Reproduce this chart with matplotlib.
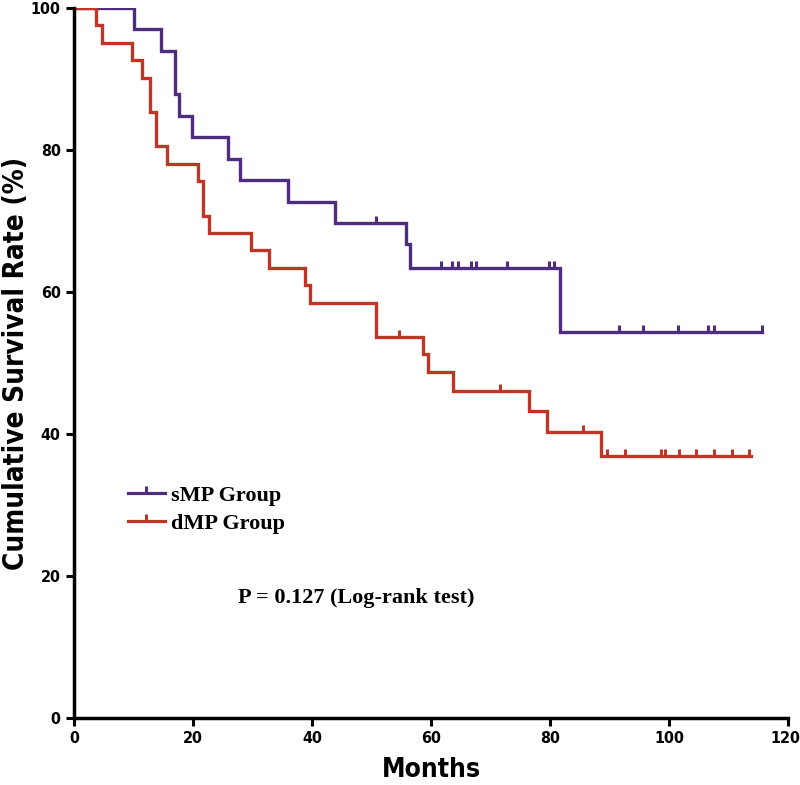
import numpy as np
import matplotlib
matplotlib.use('Agg')
import matplotlib.pyplot as plt
import matplotlib.transforms as mtransforms
from matplotlib.lines import Line2D

# step data (months, survival % after the drop)
smp_t = [0, 10.0, 14.7, 17.0, 17.7, 19.8, 25.8, 27.9, 35.9, 43.9, 55.8, 56.5, 81.6]
smp_s = [100, 97.0, 93.9, 87.9, 84.8, 81.8, 78.8, 75.8, 72.7, 69.7, 66.7, 63.4, 54.3]
smp_end = 115.7
smp_cens = [50.8, 61.6, 63.6, 64.5, 66.7, 67.6, 72.7, 79.8, 80.6,
            91.6, 95.6, 101.5, 106.6, 107.5, 115.6]

dmp_t = [0, 3.7, 4.65, 9.7, 11.5, 12.7, 13.8, 15.7, 20.8, 21.7, 22.7, 29.7, 32.8,
         38.9, 39.7, 50.8, 58.7, 59.5, 63.7, 76.5, 79.5, 88.6]
dmp_s = [100, 97.6, 95.1, 92.7, 90.2, 85.4, 80.5, 78.0, 75.6, 70.7, 68.3, 65.9, 63.4,
         61.0, 58.5, 53.7, 51.2, 48.8, 46.1, 43.2, 40.3, 36.9]
dmp_end = 113.7
dmp_cens = [54.6, 71.6, 85.6, 89.5, 92.6, 98.6, 99.3, 101.6, 104.5, 107.6, 110.6, 113.5]

purple = '#4e2d7e'
red = '#bf3526'
sans = ['Liberation Sans Narrow', 'DejaVu Sans']


def km(ax, t, s, end, cens, color):
    x = list(t) + [end]
    y = list(s) + [s[-1]]
    ax.step(x, y, where='post', color=color, lw=2.4, solid_joinstyle='miter')
    idx = np.searchsorted(t, cens, side='right') - 1
    cy = np.array(s)[idx]
    ax.plot(cens, cy, ls='none', marker=2, ms=5, mew=2.2, color=color)


fig = plt.figure(figsize=(8, 7.85), dpi=100)
ax = fig.add_axes([0.0925, 0.0854, 0.8925, 0.9044])

km(ax, smp_t, smp_s, smp_end, smp_cens, purple)
km(ax, dmp_t, dmp_s, dmp_end, dmp_cens, red)

ax.set_xlim(0, 120)
ax.set_ylim(0, 100)
ax.set_xticks(range(0, 121, 20))
ax.set_yticks(range(0, 101, 20))
for sp in ['top', 'right']:
    ax.spines[sp].set_visible(False)
for sp in ['left', 'bottom']:
    ax.spines[sp].set_linewidth(2.5)
ax.tick_params(width=2.2, length=6, direction='out', labelsize=11.5)
for lab in ax.get_xticklabels() + ax.get_yticklabels():
    lab.set_fontweight('bold')
    lab.set_fontfamily(sans)
    lab.set_fontstretch('condensed')

# nudge the last x label so it stays inside the image
last = ax.get_xticklabels()[-1]
last.set_transform(last.get_transform() +
                   mtransforms.ScaledTranslation(-3 / 100, 0, fig.dpi_scale_trans))

ax.set_xlabel('Months', fontsize=19, fontweight='bold', family=sans,
              stretch='condensed', labelpad=8)
ax.set_ylabel('Cumulative Survival Rate (%)', fontsize=20, fontweight='bold',
              family=sans, stretch='condensed')
ax.yaxis.set_label_coords(-0.062, 0.5)

handles = [Line2D([], [], color=purple, lw=2.3, marker=2, ms=5, mew=2.2),
           Line2D([], [], color=red, lw=2.3, marker=2, ms=5, mew=2.2)]
ax.legend(handles, ['sMP Group', 'dMP Group'], loc='upper left',
          bbox_to_anchor=(0.0756, 0.328), frameon=False, borderpad=0,
          borderaxespad=0, handlelength=1.65, handletextpad=0.3,
          labelspacing=0.36,
          prop={'family': 'Liberation Serif', 'weight': 'bold', 'size': 16})

ax.text(27.5, 16.9, 'P = 0.127 (Log-rank test)', fontsize=16, fontweight='bold',
        family='Liberation Serif', va='center', ha='left')

fig.savefig('out.png', dpi=100)
